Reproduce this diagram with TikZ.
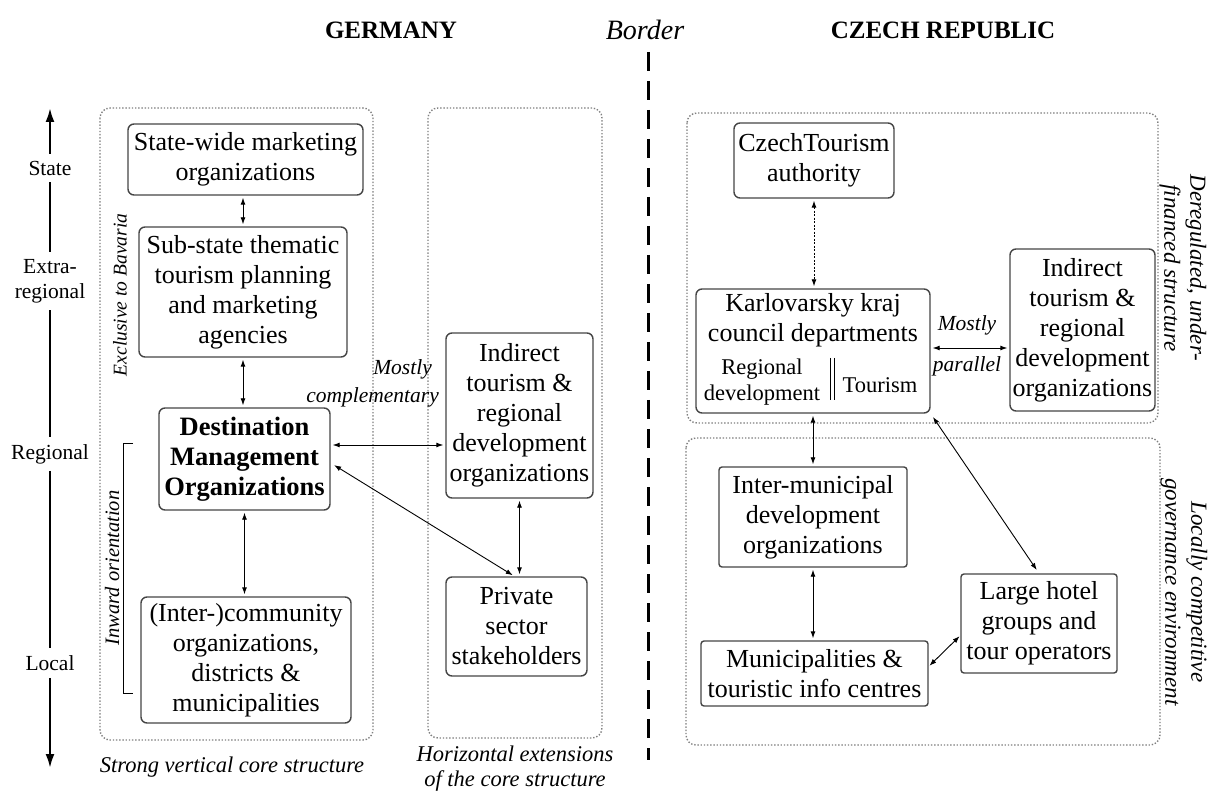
\documentclass[tikz,border=0pt]{standalone}
\usepackage{fontspec}
\setmainfont{Liberation Serif}
\usetikzlibrary{arrows.meta}
\definecolor{boxgray}{HTML}{454545}
\definecolor{dotgray}{HTML}{808080}
\begin{document}
\begin{tikzpicture}[x=1pt,y=-1pt,
  box/.style={draw=boxgray, line width=1.4pt, rounded corners=6pt, align=center, inner sep=0pt, font=\fontsize{26}{30}\selectfont},
  sqbox/.style={box, rounded corners=3pt},
  cont/.style={draw=dotgray, line width=1.4pt, dash pattern=on 1.4pt off 1.8pt, rounded corners=10pt},
  arr/.style={line width=0.9pt, {Latex[length=7pt,width=5pt]}-{Latex[length=7pt,width=5pt]}, shorten <=2pt, shorten >=2pt},
  axis/.style={line width=2.3pt},
  axtip/.style={axis, -{Latex[length=14pt,width=9pt]}},
  axlab/.style={font=\fontsize{21.5}{25}\selectfont, align=center, inner xsep=0pt, inner ysep=7pt},
  head/.style={font=\fontsize{25}{30}\selectfont\bfseries, inner sep=0pt},
  itlab/.style={font=\fontsize{21.5}{25}\selectfont\itshape, align=center, inner sep=0pt},
  caption/.style={font=\fontsize{22.5}{25}\selectfont\itshape, align=center, inner sep=0pt},
  sidelab/.style={font=\fontsize{23}{26}\selectfont\itshape, align=center, inner sep=0pt, rotate=-90},
  small/.style={font=\fontsize{22.5}{26}\selectfont, align=center, inner sep=0pt}
]
\useasboundingbox (0,0) rectangle (1216,791);

% headings
\node[head] (hde) at (391,30) {GERMANY};
\node[font=\fontsize{28}{30}\selectfont\itshape, inner sep=0pt] (hbo) at (645,30) {Border};
\node[head] (hcz) at (943,30) {CZECH REPUBLIC};
\coordinate (btop) at (648,52);
\coordinate (bbot) at (648,760);
\draw[line width=3pt, dash pattern=on 19pt off 10pt] (btop) -- (bbot);

% axis
\coordinate (atop) at (50,108);
\coordinate (abot) at (50,768);
\node[axlab] (lstate) at (50,168) {State};
\node[axlab] (lextra) at (50,281) {Extra-\\regional};
\node[axlab] (lreg) at (50,454) {Regional};
\node[axlab] (lloc) at (50,663) {Local};
\draw[axtip] (lstate.north) -- (atop);
\draw[axis] (lstate.south) -- (lextra.north);
\draw[axis] (lextra.south) -- (lreg.north);
\draw[axis] (lreg.south) -- (lloc.north);
\draw[axtip] (lloc.south) -- (abot);

% containers
\draw[cont] (100,108) rectangle (373,740);
\draw[cont] (428,108) rectangle (602,738);
\draw[cont] (687,113) rectangle (1158,423);
\draw[cont] (686,438) rectangle (1160,745);

% Germany boxes
\node[box, minimum width=235pt, minimum height=71pt] (sw) at (245.5,159.5) {State-wide marketing\\organizations};
\node[box, minimum width=208pt, minimum height=130pt] (ss) at (243,292) {Sub-state thematic\\tourism planning\\and marketing\\agencies};
\node[box, minimum width=171pt, minimum height=102pt, font=\fontsize{26.5}{30}\selectfont\bfseries] (dmo) at (244.5,459) {Destination\\Management\\Organizations};
\node[box, minimum width=210pt, minimum height=126pt] (com) at (246,660) {(Inter-)community\\organizations,\\districts \&\\municipalities};
\node[box, minimum width=147pt, minimum height=165pt] (gind) at (519.5,415.5) {Indirect\\tourism \&\\regional\\development\\organizations};
\node[box, minimum width=141pt, minimum height=99pt] (priv) at (516.5,626.5) {Private\\sector\\stakeholders};

% Germany side labels
\node[font=\fontsize{19.5}{22}\selectfont\itshape, rotate=90, inner sep=0pt] (excl) at (120,295) {Exclusive to Bavaria};
\node[font=\fontsize{20.5}{22}\selectfont\itshape, rotate=90, inner sep=0pt] (inw) at (112,568) {Inward orientation};
\draw[line width=1pt] (133,444) -- (123,444) -- (123,693) -- (133,693);
\node[itlab, anchor=east] (mc1) at (432,369) {Mostly};
\node[itlab, anchor=east] (mc2) at (439,397) {complementary};
\node[caption] (cap1) at (232,767) {Strong vertical core structure};
\node[caption] (cap2) at (515,769) {Horizontal extensions\\of the core structure};

% Germany arrows
\draw[arr] (sw.south -| ss.north) -- (ss.north);
\draw[arr] (ss.south) -- (ss.south |- dmo.north);
\draw[arr] (dmo.south) -- (dmo.south |- com.north);
\draw[arr] ([yshift=14pt]dmo.east) -- ([yshift=14pt]dmo.east -| gind.west);
\draw[arr, shorten <=4pt] ([yshift=-4pt]dmo.east) -- ([xshift=-2pt]priv.north);
\draw[arr] (gind.south) -- (gind.south |- priv.north);

% Czech boxes
\node[box, minimum width=160pt, minimum height=75pt] (ct) at (814,160.5) {CzechTourism\\authority};
\node[box, minimum width=234pt, minimum height=124pt] (kk) at (813,351) {};
\node[box, draw=none] (kkt) at (813,320) {Karlovarsky kraj\\council departments};
\node[small] (kkr) at (762,382) {Regional\\development};
\node[small] (kkto) at (880,385) {Tourism};
\draw[line width=1pt] (830,358) -- (830,400) (834,358) -- (834,400);
\node[box, minimum width=145pt, minimum height=162pt] (cind) at (1082.5,330) {Indirect\\tourism \&\\regional\\development\\organizations};
\node[sqbox, minimum width=188pt, minimum height=100pt] (im) at (813,517) {Inter-municipal\\development\\organizations};
\node[sqbox, minimum width=227pt, minimum height=65pt] (mun) at (814.5,673.5) {Municipalities \&\\touristic info centres};
\node[sqbox, minimum width=156pt, minimum height=99pt] (hotel) at (1039,623.5) {Large hotel\\groups and\\tour operators};

% Czech labels
\node[itlab] (mp1) at (967,325) {Mostly};
\node[itlab] (mp2) at (967,366) {parallel};
\node[sidelab] (dereg) at (1183,268) {Deregulated, under-\\financed structure};
\node[sidelab] (locc) at (1184,592) {Locally competitive\\governance environment};

% Czech arrows
\draw[arr, dash pattern=on 2pt off 1.5pt] (ct.south) -- (ct.south |- kk.north);
\draw[arr] ([yshift=3pt]kk.east) -- ([yshift=3pt]kk.east -| cind.west);
\draw[arr] (kk.south) -- (kk.south |- im.north);
\draw[arr, shorten <=4pt, shorten >=4pt] (kk.south east) -- (hotel.north);
\draw[arr] (im.south) -- (im.south |- mun.north);
\draw[arr, shorten <=1pt, shorten >=1pt] ([yshift=7pt]mun.east) -- ([yshift=-12pt]hotel.west);
\end{tikzpicture}
\end{document}
